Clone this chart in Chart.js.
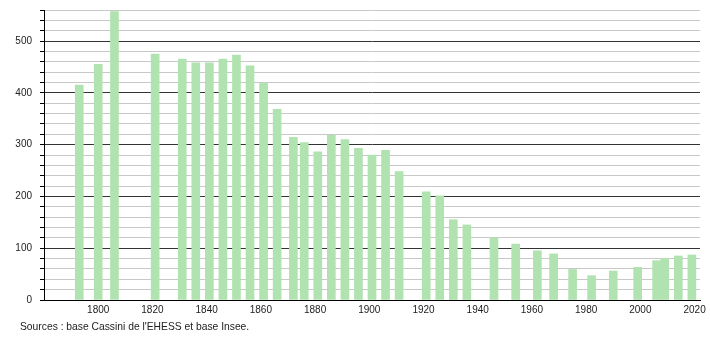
<!DOCTYPE html>
<html>
<head>
<meta charset="utf-8">
<script src="https://cdn.jsdelivr.net/npm/chart.js@4"></script>
<style>
    body { margin: 0; background: #fff; }
    #wrap { position: relative; width: 710px; height: 340px; }
    #src { position: absolute; left: 20px; top: 321px; font: 10.3px "Liberation Sans", Arial, sans-serif; color: #222; }
</style>
</head>
<body>
<div id="wrap">
    <canvas id="popChart" width="710" height="340"></canvas>
    <div id="src">Sources : base Cassini de l'EHESS et base Insee.</div>
</div>
<script>
// 📌 années des recensements
const years = [1793, 1800, 1806, 1821, 1831, 1836, 1841, 1846, 1851, 1856, 1861, 1866, 1872, 1876, 1881, 1886, 1891, 1896, 1901, 1906, 1911, 1921, 1926, 1931, 1936, 1946, 1954, 1962, 1968, 1975, 1982, 1990, 1999, 2006, 2009, 2014, 2019];
// 📌 population
const population = [415, 455, 557, 475, 465, 458, 458, 465, 473, 452, 419, 368, 314, 304, 286, 318, 310, 293, 280, 289, 248, 209, 201, 155, 145, 120, 108, 95, 89, 59, 47, 56, 63, 76, 80, 85, 87];
const xTickYears = [1800, 1820, 1840, 1860, 1880, 1900, 1920, 1940, 1960, 1980, 2000, 2020];

const font = { family: '"Liberation Sans", Arial, sans-serif', size: 10 };

new Chart(document.getElementById('popChart'), {
    type: 'bar',
    data: {
        datasets: [{
            data: years.map((y, i) => ({ x: y, y: population[i] })),
            backgroundColor: '#b0e3b0',
            barThickness: 8,
            borderWidth: 0
        }]
    },
    options: {
        responsive: false,
        animation: false,
        layout: { padding: { top: 10, right: 10, bottom: 22, left: 0 } },
        plugins: { legend: { display: false }, tooltip: { enabled: false } },
        scales: {
            x: {
                type: 'linear',
                offset: false,
                min: 1780,
                max: 2022,
                afterBuildTicks: s => { s.ticks = xTickYears.map(v => ({ value: v })); },
                afterFit: s => { s.height = 18; s.paddingLeft = 0; s.paddingRight = 0; },
                grid: { display: false, drawTicks: false },
                border: { color: '#000', width: 1 },
                ticks: { font, color: '#222', padding: 4, maxRotation: 0, autoSkip: false, callback: v => String(v) }
            },
            y: {
                min: 0,
                max: 560,
                afterFit: s => { s.width = 44; s.paddingTop = 0; s.paddingBottom = 0; },
                grid: {
                    color: c => (c.tick.value % 100 === 0 ? '#333' : '#c8c8c8'),
                    tickColor: '#000',
                    tickLength: 4
                },
                border: { color: '#000', width: 1 },
                ticks: {
                    stepSize: 20,
                    font, color: '#222', padding: 8,
                    autoSkip: false,
                    callback: v => (v % 100 === 0 ? v : '')
                }
            }
        }
    }
});
</script>
</body>
</html>
